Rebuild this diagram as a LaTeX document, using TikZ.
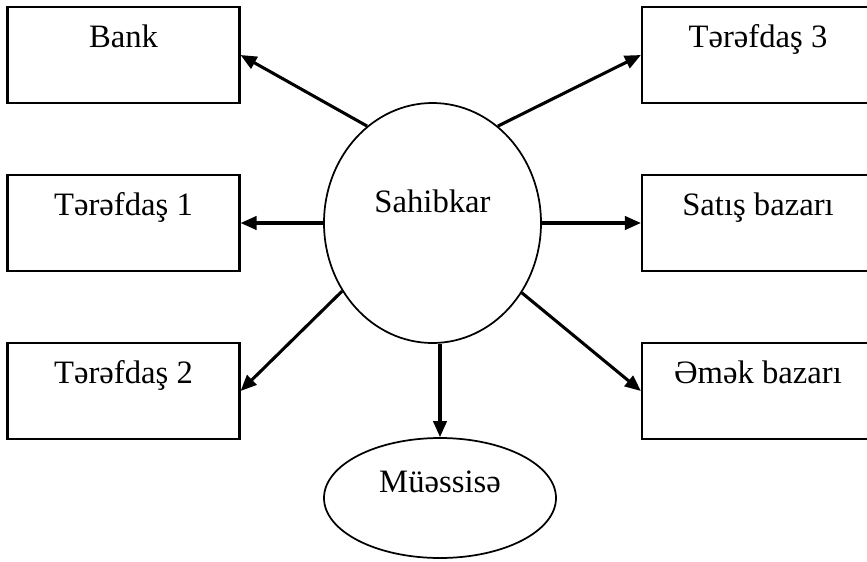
\documentclass[tikz,border=0pt]{standalone}
\usepackage{fontspec}
\setmainfont{Liberation Serif}
\usetikzlibrary{arrows.meta,shapes.geometric}
\begin{document}
\begin{tikzpicture}[x=0.75pt,y=-0.75pt,
  every node/.style={font=\fontsize{24.5}{28}\selectfont},
  boxnode/.style={draw,line width=1.6pt,rectangle,inner sep=0pt,
    minimum width=174pt,minimum height=72pt,text height=30pt,text depth=42pt},
  ovalnode/.style={draw,line width=1.3pt,ellipse,inner sep=0pt},
  conn/.style={line width=2.3pt,-{Triangle[length=12pt,width=10pt]}}]
\useasboundingbox (0,0) rectangle (867,561);
\clip (0,0) rectangle (867,561);
\node[boxnode] (bank) at (123.5,55) {Bank};
\node[boxnode] (t1) at (123.5,223) {Tərəfdaş 1};
\node[boxnode] (t2) at (123.5,391) {Tərəfdaş 2};
\node[boxnode] (t3) at (758,55) {Tərəfdaş 3};
\node[boxnode] (sat) at (758,223) {Satış bazarı};
\node[boxnode] (emk) at (758,391) {Əmək bazarı};
\node[ovalnode,minimum width=162.75pt,minimum height=180pt,text height=0pt,text depth=16.5pt] (sah) at (432.5,223) {Sahibkar};
\node[ovalnode,minimum width=174pt,minimum height=90pt,text height=0pt,text depth=9pt] (mue) at (440,498) {Müəssisə};
\draw[conn] (sah.124.3) -- (bank.east);
\draw[conn] (sah.west) -- (t1.east);
\draw[conn] (sah.217.6) -- (t2.east);
\draw[conn] (sah.56) -- (t3.west);
\draw[conn] (sah.east) -- (sat.west);
\draw[conn] (sah.322.7) -- (emk.west);
\draw[conn] (sah.south -| mue.north) -- (mue.north);
\end{tikzpicture}
\end{document}
